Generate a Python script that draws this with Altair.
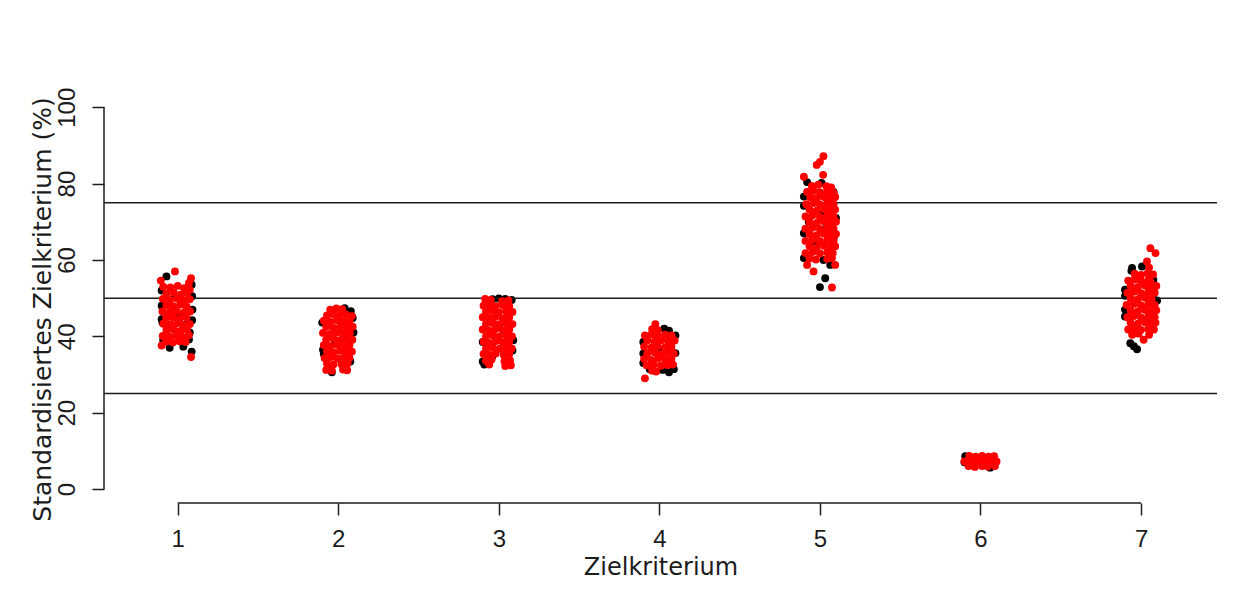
import altair as alt
import pandas as pd

# ---------------- values ----------------
GROUPS = [1, 2, 3, 4, 5, 6, 7]
X_TICKS = [1, 2, 3, 4, 5, 6, 7]
Y_TICKS = [0, 20, 40, 60, 80, 100]
REF_LINES = [25, 50, 75]
X_TITLE = "Zielkriterium"
Y_TITLE = "Standardisiertes Zielkriterium (%)"

# (jitter offset on x, value in %) per criterion, black series then red series
black_1 = [(-0.07, 55.7), (0.087, 53.5), (-0.1, 52.0), (0.09, 50.5), (-0.1, 48.0),
           (0.092, 47.0), (-0.1, 44.5), (-0.095, 43.6), (0.09, 44.2), (0.075, 41.0),
           (0.07, 39.2), (-0.09, 39.0), (-0.05, 37.0), (0.035, 37.3), (0.087, 36.0),
           (0.0, 45.5), (-0.02, 50.6), (0.05, 43.0), (-0.06, 42.0)]
red_1 = [(-0.017, 57.0), (0.083, 55.2), (-0.105, 54.6), (0.07, 54.0),
         (-0.09, 53.0), (-0.045, 52.8), (0.0, 53.2), (0.04, 52.6), (0.075, 52.2),
         (-0.07, 51.2), (-0.025, 51.5), (0.018, 50.9), (0.058, 51.3),
         (-0.092, 49.8), (-0.048, 49.5), (-0.004, 49.9), (0.035, 49.4), (0.075, 49.7),
         (-0.07, 48.1), (-0.028, 47.9), (0.015, 48.3), (0.055, 47.8),
         (-0.095, 46.5), (-0.05, 46.3), (-0.006, 46.6), (0.038, 46.2), (0.077, 46.5),
         (-0.072, 44.8), (-0.03, 45.0), (0.012, 44.6), (0.055, 44.9),
         (-0.09, 43.3), (-0.048, 43.1), (-0.005, 43.4), (0.036, 42.9), (0.076, 43.2),
         (-0.07, 41.6), (-0.026, 41.8), (0.016, 41.4), (0.058, 41.7),
         (-0.093, 40.1), (-0.05, 39.9), (-0.008, 40.2), (0.034, 39.8), (0.07, 40.3),
         (-0.1, 37.6), (-0.072, 38.6), (-0.03, 38.4), (0.012, 38.7), (0.05, 38.5),
         (0.083, 34.6)]

black_2 = [(0.04, 47.4), (0.078, 46.6), (-0.1, 43.6), (0.095, 41.0), (0.0, 41.3),
           (-0.095, 36.5), (-0.09, 35.4), (0.075, 33.4), (-0.04, 30.6), (-0.06, 31.8),
           (0.09, 44.8), (-0.02, 38.5), (0.03, 36.8)]
red_2 = [(-0.05, 47.0), (-0.012, 47.3), (0.025, 47.1),
         (-0.07, 45.5), (-0.03, 45.8), (0.01, 45.4), (0.05, 45.7), (0.085, 45.3),
         (-0.09, 44.1), (-0.05, 43.8), (-0.01, 44.2), (0.03, 43.9), (0.07, 44.0),
         (-0.075, 42.5), (-0.03, 42.2), (0.012, 42.6), (0.052, 42.3), (0.09, 42.5),
         (-0.095, 40.9), (-0.052, 40.6), (-0.01, 41.0), (0.03, 40.7), (0.072, 40.9),
         (-0.075, 39.1), (-0.03, 39.4), (0.01, 39.0), (0.05, 39.3), (0.088, 39.1),
         (-0.09, 37.7), (-0.05, 37.4), (-0.008, 37.8), (0.033, 37.5), (0.07, 37.7),
         (-0.07, 36.1), (-0.028, 35.8), (0.012, 36.2), (0.052, 35.9), (0.085, 36.0),
         (-0.085, 34.3), (-0.045, 34.6), (-0.005, 34.2), (0.035, 34.5), (0.07, 34.3),
         (-0.07, 32.9), (-0.03, 32.6), (0.02, 32.7), (0.058, 32.9),
         (-0.075, 31.2), (-0.04, 31.0), (0.03, 31.3), (0.055, 31.1)]

black_3 = [(-0.04, 49.7), (0.0, 49.9), (0.04, 49.8), (0.08, 49.5), (-0.1, 33.4),
           (-0.04, 34.8), (0.09, 39.0), (0.085, 36.3), (0.05, 36.0), (-0.1, 38.5),
           (0.0, 42.6), (-0.07, 47.4), (0.05, 46.5), (-0.09, 32.6)]
red_3 = [(-0.085, 49.8), (-0.05, 49.5), (0.02, 49.2), (0.06, 49.4),
         (-0.095, 48.0), (-0.06, 48.3), (-0.02, 47.9), (0.025, 48.2), (0.065, 47.9),
         (-0.08, 46.4), (-0.04, 46.7), (0.0, 46.3), (0.045, 46.6), (0.085, 46.4),
         (-0.1, 45.0), (-0.06, 44.8), (-0.02, 45.1), (0.025, 44.7), (0.065, 45.0),
         (-0.08, 43.2), (-0.04, 43.5), (0.0, 43.1), (0.045, 43.4), (0.085, 43.2),
         (-0.1, 41.8), (-0.06, 41.5), (-0.02, 41.9), (0.025, 41.6), (0.065, 41.8),
         (-0.08, 40.0), (-0.04, 40.3), (0.0, 39.9), (0.045, 40.2), (0.082, 40.0),
         (-0.095, 38.6), (-0.06, 38.3), (-0.02, 38.7), (0.025, 38.4), (0.065, 38.6),
         (-0.08, 36.8), (-0.04, 37.1), (0.002, 36.7), (0.045, 37.0), (0.08, 36.8),
         (-0.095, 35.4), (-0.058, 35.1), (-0.02, 35.5), (0.03, 35.2), (0.065, 35.4),
         (-0.08, 33.6), (-0.045, 33.9), (0.035, 33.5), (0.07, 33.7),
         (-0.06, 32.6), (0.04, 32.2), (0.075, 32.4)]

black_4 = [(0.03, 42.0), (0.06, 41.5), (0.1, 40.2), (-0.1, 38.5), (-0.1, 35.5),
           (0.1, 35.6), (0.02, 31.2), (0.06, 30.6), (0.09, 31.4), (-0.06, 31.4),
           (-0.1, 33.0), (0.0, 36.5), (0.08, 39.5)]
red_4 = [(-0.025, 43.2),
         (-0.045, 41.9), (-0.01, 41.6),
         (-0.09, 40.2), (-0.05, 40.5), (-0.01, 40.1), (0.035, 40.4), (0.075, 40.2),
         (-0.075, 38.9), (-0.03, 38.6), (0.012, 39.0), (0.055, 38.7), (0.095, 38.9),
         (-0.095, 37.3), (-0.05, 37.0), (-0.01, 37.4), (0.035, 37.1), (0.075, 37.3),
         (-0.075, 35.5), (-0.03, 35.8), (0.012, 35.4), (0.055, 35.7), (0.09, 35.5),
         (-0.095, 34.1), (-0.05, 33.8), (-0.01, 34.2), (0.035, 33.9), (0.075, 34.1),
         (-0.08, 32.4), (-0.035, 32.6), (0.01, 32.3), (0.05, 32.5), (0.085, 32.6),
         (-0.045, 31.0), (-0.02, 30.8),
         (-0.09, 29.0)]

black_5 = [(-0.08, 80.4), (0.01, 80.2), (0.05, 79.0), (0.085, 77.8), (-0.1, 76.6),
           (-0.1, 74.2), (0.022, 72.2), (-0.07, 70.0), (0.044, 68.7), (-0.04, 64.8),
           (0.085, 65.7), (-0.1, 60.5), (0.022, 60.0), (0.064, 58.7), (0.033, 55.2),
           (0.0, 52.9), (-0.1, 67.0), (0.1, 71.0)]
red_5 = [(0.022, 87.2), (0.0, 85.7), (-0.02, 84.9), (0.02, 82.3), (-0.1, 81.8),
         (-0.05, 79.4), (-0.01, 79.7), (0.04, 79.3), (0.07, 79.0),
         (-0.08, 77.8), (-0.04, 78.1), (0.0, 77.7), (0.045, 78.0), (0.085, 77.6),
         (-0.06, 76.4), (-0.02, 76.1), (0.025, 76.5), (0.065, 76.2), (0.095, 76.5),
         (-0.085, 74.6), (-0.04, 74.9), (0.0, 74.5), (0.045, 74.8), (0.085, 74.6),
         (-0.065, 73.2), (-0.02, 72.9), (0.025, 73.3), (0.065, 73.0), (0.095, 73.2),
         (-0.09, 71.4), (-0.045, 71.7), (0.0, 71.3), (0.045, 71.6), (0.085, 71.4),
         (-0.065, 70.0), (-0.02, 69.7), (0.025, 70.1), (0.065, 69.8), (0.1, 70.0),
         (-0.09, 68.2), (-0.045, 68.5), (0.0, 68.1), (0.045, 68.4), (0.085, 68.2),
         (-0.065, 66.8), (-0.02, 66.5), (0.025, 66.9), (0.065, 66.6), (0.1, 66.8),
         (-0.09, 65.0), (-0.045, 65.3), (0.0, 64.9), (0.045, 65.2), (0.085, 65.0),
         (-0.065, 63.6), (-0.02, 63.3), (0.025, 63.7), (0.065, 63.4), (0.095, 63.6),
         (-0.09, 61.8), (-0.045, 62.1), (0.0, 61.7), (0.045, 62.0), (0.08, 61.8),
         (-0.065, 60.4), (-0.025, 60.1), (0.045, 60.3), (0.075, 60.5),
         (-0.08, 58.7), (-0.04, 57.0), (0.095, 58.7), (0.075, 52.8)]

black_6 = [(-0.095, 8.6), (-0.1, 7.0), (0.06, 5.6), (0.0, 7.2)]
red_6 = [(-0.07, 8.7), (-0.03, 8.5), (0.01, 8.7), (0.05, 8.5), (0.085, 8.6),
         (-0.1, 7.2), (-0.055, 7.1), (-0.015, 7.3), (0.03, 7.1), (0.07, 7.3), (0.1, 7.2),
         (-0.075, 6.0), (-0.035, 5.8), (0.01, 6.0), (0.045, 5.9), (0.09, 6.0)]

black_7 = [(-0.056, 57.9), (0.006, 58.3), (-0.06, 57.2), (-0.1, 52.2), (-0.1, 50.6),
           (0.08, 49.6), (0.1, 49.4), (0.077, 54.8), (-0.1, 45.2), (0.027, 43.9),
           (-0.1, 47.0), (-0.067, 38.2), (-0.045, 37.4), (-0.025, 36.6), (0.05, 44.5)]
red_7 = [(0.058, 63.1), (0.09, 61.8), (0.037, 59.6), (0.05, 58.0), (0.016, 39.1),
         (-0.04, 56.4), (0.0, 56.1), (0.04, 56.5), (0.075, 56.2),
         (-0.08, 54.6), (-0.04, 54.9), (0.0, 54.5), (0.045, 54.8), (0.06, 54.2),
         (-0.065, 53.2), (-0.02, 52.9), (0.025, 53.3), (0.065, 53.0), (0.095, 53.2),
         (-0.085, 51.4), (-0.045, 51.7), (0.0, 51.3), (0.045, 51.6), (0.085, 51.4),
         (-0.065, 50.0), (-0.02, 49.7), (0.025, 50.1), (0.065, 49.8),
         (-0.09, 48.2), (-0.045, 48.5), (0.0, 48.1), (0.045, 48.4), (0.085, 48.2),
         (-0.065, 46.8), (-0.02, 46.5), (0.025, 46.9), (0.065, 46.6), (0.095, 46.8),
         (-0.085, 45.0), (-0.045, 45.3), (0.0, 44.9), (0.045, 45.2), (0.085, 45.0),
         (-0.065, 43.6), (-0.02, 43.3), (0.025, 43.7), (0.065, 43.4), (0.09, 43.6),
         (-0.08, 41.8), (-0.04, 42.1), (0.0, 41.7), (0.045, 42.0), (0.08, 41.8),
         (-0.055, 40.4), (-0.015, 40.7), (0.05, 40.4)]

BLACK = [black_1, black_2, black_3, black_4, black_5, black_6, black_7]
RED = [red_1, red_2, red_3, red_4, red_5, red_6, red_7]

# ---------------- table ----------------
rows_black, rows_red = [], []
for g, blk, red in zip(GROUPS, BLACK, RED):
    for dx, v in blk:
        rows_black.append({"x": g + dx, "y": v})
    for dx, v in red:
        rows_red.append({"x": g + dx, "y": v})
df_black = pd.DataFrame(rows_black)
df_red = pd.DataFrame(rows_red)

W, H = 1113, 411
X_DOMAIN = [0.541, 7.473]
Y_DOMAIN = [-3.66, 104.0]
xs = alt.Scale(domain=X_DOMAIN, nice=False, zero=False)
ys = alt.Scale(domain=Y_DOMAIN, nice=False, zero=False)
INK = "#1c1c1c"

x_axis = alt.Axis(values=X_TICKS, format="d", domain=False, grid=False,
                  tickSize=12, tickWidth=1.5, tickColor=INK,
                  labelFont="Liberation Sans", labelFontSize=24, labelColor=INK,
                  labelPadding=12, labelFlush=False, labelOverlap=False,
                  title=X_TITLE, titleFont="DejaVu Sans", titleFontSize=24,
                  titleFontWeight="normal", titleColor=INK,
                  titleBaseline="alphabetic", titleY=71)
y_axis = alt.Axis(values=Y_TICKS, format="d", domain=False, grid=False,
                  tickSize=12, tickWidth=1.5, tickColor=INK,
                  labelFont="Liberation Sans", labelFontSize=24, labelColor=INK,
                  labelAngle=270, labelAlign="center", labelBaseline="alphabetic",
                  labelPadding=18, labelFlush=False, labelOverlap=False,
                  title=Y_TITLE, titleFont="DejaVu Sans", titleFontSize=25,
                  titleFontWeight="normal", titleColor=INK, titleAngle=270,
                  titleAlign="center", titleBaseline="alphabetic",
                  titleX=-54, titleY=217)

PT = 62

pts_black = alt.Chart(df_black).mark_circle(size=PT, opacity=1, color="#000000").encode(
    x=alt.X("x:Q", scale=xs, axis=x_axis),
    y=alt.Y("y:Q", scale=ys, axis=y_axis))

hlines = alt.Chart(pd.DataFrame({"v": REF_LINES})).mark_rule(
    color=INK, strokeWidth=1.5).encode(y=alt.Y("v:Q", scale=ys, axis=y_axis))

yline = alt.Chart(pd.DataFrame({"a": [Y_TICKS[0]], "b": [Y_TICKS[-1]]})).mark_rule(
    color=INK, strokeWidth=1.5).encode(
    x=alt.value(0), y=alt.Y("a:Q", scale=ys, axis=y_axis), y2="b:Q")

xline = alt.Chart(pd.DataFrame({"a": [X_TICKS[0]], "b": [X_TICKS[-1]]})).mark_rule(
    color=INK, strokeWidth=1.5).encode(
    y=alt.value(H), x=alt.X("a:Q", scale=xs, axis=x_axis), x2="b:Q")

pts_red = alt.Chart(df_red).mark_circle(size=PT, opacity=1, color="#ff0000").encode(
    x=alt.X("x:Q", scale=xs, axis=x_axis),
    y=alt.Y("y:Q", scale=ys, axis=y_axis))

chart = alt.layer(pts_black, hlines, yline, xline, pts_red).properties(
    width=W, height=H,
    padding={"left": 96, "top": 84, "right": 20, "bottom": 80},
    autosize=alt.AutoSizeParams(type="none"),
    background="white",
).configure_view(stroke=None)

chart.save("out.html", embed_options={"renderer": "svg", "actions": False})
